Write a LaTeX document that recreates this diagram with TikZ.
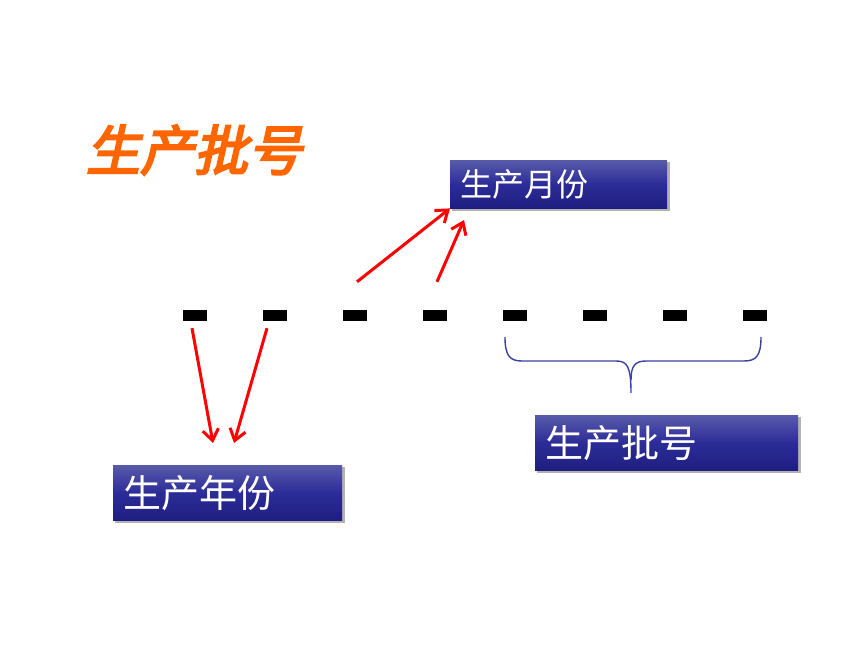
\documentclass[tikz,border=0pt]{standalone}
\usepackage{fontspec}
\newfontfamily\cjk{Noto Sans CJK SC}
\newfontfamily\titlefont[FakeSlant=0.22,FakeBold=4]{Noto Sans CJK SC}
\usetikzlibrary{arrows.meta}
\definecolor{boxtop}{RGB}{88,90,170}
\definecolor{boxmid}{RGB}{44,44,152}
\definecolor{boxbot}{RGB}{30,30,128}
\definecolor{orangeT}{RGB}{255,102,0}
\definecolor{braceblue}{RGB}{58,64,160}
\tikzset{
  bluebox/.style={anchor=north west, rectangle, inner xsep=10pt, inner ysep=0pt,
    top color=boxtop, bottom color=boxbot, middle color=boxmid,
    text=white, align=left, font=\cjk},
  shadowbox/.style={fill=black!30},
  dashmark/.style={fill=black, draw=none, minimum width=24pt, minimum height=11pt, inner sep=0pt},
  redarrow/.style={draw=red, line width=3pt, -{Straight Barb[length=11pt,width=16pt,line width=3pt]}},
  bracestyle/.style={draw=braceblue, line width=1.4pt}
}
\begin{document}
\begin{tikzpicture}[x=1pt,y=-1pt]
\useasboundingbox (0,0) rectangle (860,645);
% title
\node[font=\titlefont\fontsize{54}{54}\selectfont, text=orangeT, inner sep=0pt] (title) at (194,150) {生产批号};
% shadows
\fill[shadowbox] (452,162) rectangle (670,211);
\fill[shadowbox] (115,467) rectangle (345,523);
\fill[shadowbox] (537,417) rectangle (801,473);
% boxes
\node[bluebox, text width=197pt, minimum height=48pt, font=\cjk\fontsize{32}{32}\selectfont] (month) at (450,160) {生产月份};
\node[bluebox, text width=209pt, minimum height=55pt, font=\cjk\fontsize{38}{38}\selectfont] (year) at (113,465) {生产年份};
\node[bluebox, text width=243pt, minimum height=55pt, font=\cjk\fontsize{38}{38}\selectfont] (batch) at (535,415) {生产批号};
% dashes
\foreach \i in {1,...,8}{
  \node[dashmark] (d\i) at ({195+80*(\i-1)},315.5) {};
}
% arrow end points
\coordinate (e1) at (213,443);
\coordinate (e2) at (234,443);
\coordinate (e4) at (464,220);
% arrows
\draw[redarrow] ([shift={(-3,7)}]d1.south) -- (e1);
\draw[redarrow] ([shift={(72,7)}]d1.south) -- (e2);
\draw[redarrow] ([shift={(2,-28)}]d3.north) -- (month.south west);
\draw[redarrow] ([shift={(2,-28)}]d4.north) -- (e4);
% brace
\coordinate (bl) at (505,337);
\coordinate (br) at (761,337);
\coordinate (btip) at (631,393);
\draw[bracestyle] (bl) .. controls (505,356) and (510,361) .. (522,361)
  -- (616,361) .. controls (627,361) and (631,366) .. (btip);
\draw[bracestyle] (br) .. controls (761,356) and (756,361) .. (744,361)
  -- (646,361) .. controls (635,361) and (631,366) .. (631,380);
\end{tikzpicture}
\end{document}
